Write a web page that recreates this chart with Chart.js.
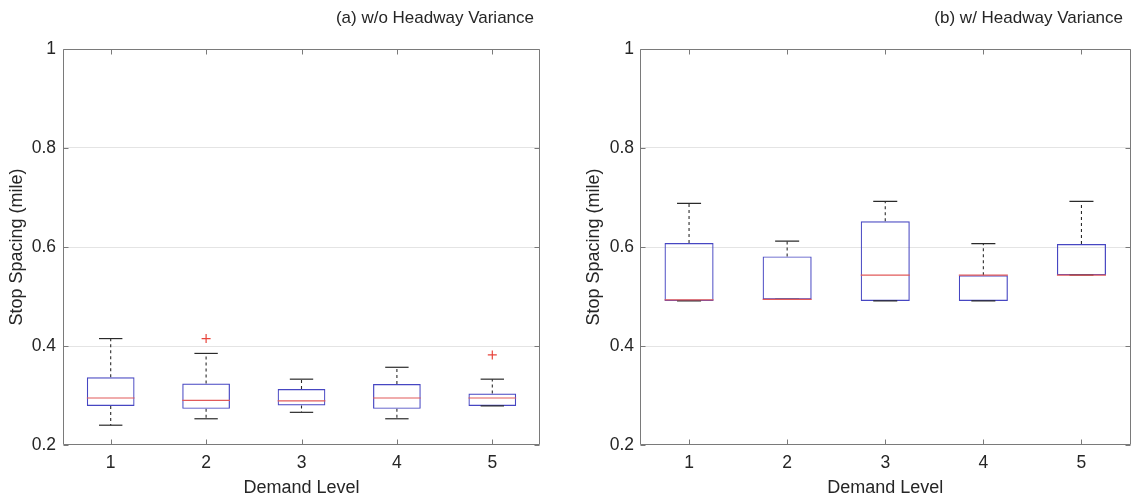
<!DOCTYPE html>
<html>
<head>
<meta charset="utf-8">
<script src="https://cdn.jsdelivr.net/npm/chart.js@4.4.1/dist/chart.umd.min.js"></script>
<style>
  html, body { margin: 0; padding: 0; background: #ffffff; }
  #wrap { position: relative; width: 1143px; height: 502px; background: #ffffff; overflow: hidden; }
  .panel { position: absolute; top: 0; }
</style>
</head>
<body>
<div id="wrap">
  <canvas id="panelA" class="panel" width="570" height="502" style="left:0px"></canvas>
  <canvas id="panelB" class="panel" width="573" height="502" style="left:570px"></canvas>
</div>
<script>
// Demand levels on the x axis and y-axis ticks (stop spacing, miles)
const demandLevels = ['1', '2', '3', '4', '5'];
const yTicks = [0.2, 0.4, 0.6, 0.8, 1];

// (a) without headway variance: box-plot statistics per demand level
const aLow    = [0.240, 0.253, 0.266, 0.253, 0.279];
const aQ1     = [0.279, 0.273, 0.280, 0.273, 0.279];
const aMedian = [0.295, 0.290, 0.289, 0.295, 0.295];
const aQ3     = [0.337, 0.324, 0.313, 0.323, 0.304];
const aHigh   = [0.415, 0.385, 0.333, 0.357, 0.333];
const aOutliers = [null, 0.415, null, null, 0.382];

// (b) with headway variance
const bLow    = [0.491, 0.494, 0.491, 0.491, 0.543];
const bQ1     = [0.491, 0.494, 0.491, 0.491, 0.543];
const bMedian = [0.493, 0.494, 0.543, 0.543, 0.543];
const bQ3     = [0.608, 0.581, 0.652, 0.543, 0.606];
const bHigh   = [0.688, 0.612, 0.692, 0.607, 0.692];
const bOutliers = [null, null, null, null, null];

const FONT = '"Liberation Sans", Arial, Helvetica, sans-serif';
const TEXT = '#262626';
Chart.defaults.font.family = FONT;
Chart.defaults.font.size = 17.5;
Chart.defaults.color = TEXT;

// Panel heading, right-aligned just inside the plot frame
const panelTitle = {
  id: 'panelTitle',
  afterDraw(chart, args, opts) {
    const { ctx, chartArea } = chart;
    ctx.save();
    ctx.font = opts.size + 'px ' + FONT;
    ctx.fillStyle = TEXT;
    ctx.textAlign = 'right';
    ctx.textBaseline = 'middle';
    ctx.fillText(opts.text, chartArea.right - opts.inset, opts.y);
    ctx.restore();
  }
};

// Box frame around the plot with inward-pointing tick marks on all sides
const axesFrame = {
  id: 'axesFrame',
  afterDatasetsDraw(chart, args, opts) {
    const { ctx, chartArea: a, scales } = chart;
    const L = Math.round(a.left) + 0.5, R = Math.round(a.right) - 0.5;
    const T = Math.round(a.top) + 0.5, B = Math.round(a.bottom) - 0.5;
    const len = opts.tickLength;
    ctx.save();
    ctx.strokeStyle = opts.color;
    ctx.lineWidth = 1;
    ctx.beginPath();
    ctx.rect(L, T, R - L, B - T);
    scales.x.ticks.forEach((t, i) => {
      const px = Math.round(scales.x.getPixelForTick(i)) + 0.5;
      ctx.moveTo(px, B); ctx.lineTo(px, B - len);
      ctx.moveTo(px, T); ctx.lineTo(px, T + len);
    });
    scales.y.ticks.forEach(t => {
      const py = Math.round(scales.y.getPixelForValue(t.value)) + 0.5;
      ctx.moveTo(L, py); ctx.lineTo(L + len, py);
      ctx.moveTo(R, py); ctx.lineTo(R - len, py);
    });
    ctx.stroke();
    ctx.restore();
  }
};

// width of one category slot in pixels
const slot = ctx => ctx.chart.scales.x.width / demandLevels.length;

function makeBoxChart(id, s, geo) {
  const whiskers = demandLevels.flatMap((c, i) => [
    { x: c, y: s.q3[i] }, { x: c, y: s.high[i] }, { x: c, y: null },
    { x: c, y: s.q1[i] }, { x: c, y: s.low[i] }, { x: c, y: null }
  ]);
  const caps = demandLevels.flatMap((c, i) => [
    { x: c, y: s.high[i] }, { x: c, y: s.low[i] }
  ]);
  const boxes = demandLevels.map((c, i) => [s.q1[i], s.q3[i]]);

  return new Chart(document.getElementById(id), {
    type: 'bar',
    data: {
      labels: demandLevels,
      datasets: [
        {
          type: 'line', label: 'outliers', data: s.outliers, order: 0,
          showLine: false, pointStyle: 'cross', pointRadius: 4.5,
          pointBorderColor: '#e8453c', pointBackgroundColor: '#e8453c',
          pointBorderWidth: 1.2
        },
        {
          type: 'line', label: 'median', data: s.median, order: 1,
          showLine: false, pointStyle: 'line',
          pointRadius: ctx => slot(ctx) * 0.25,
          pointBorderColor: '#e25a5a', pointBorderWidth: 1.2
        },
        {
          type: 'line', label: 'caps', data: caps, order: 2,
          showLine: false, pointStyle: 'line',
          pointRadius: ctx => slot(ctx) * 0.1225,
          pointBorderColor: '#2a2a2a', pointBorderWidth: 1.2
        },
        {
          type: 'bar', label: 'box', data: boxes, order: 3,
          backgroundColor: 'rgba(255,255,255,0)',
          borderColor: '#4646c2', borderWidth: 1.2, borderSkipped: false,
          categoryPercentage: 1, barPercentage: 0.5
        },
        {
          type: 'line', label: 'whiskers', data: whiskers, order: 4,
          spanGaps: false, pointRadius: 0, borderColor: '#2a2a2a',
          borderWidth: 1.1, borderDash: [3, 3], fill: false
        }
      ]
    },
    options: {
      responsive: false,
      animation: false,
      events: [],
      layout: { padding: { left: 0, top: 49, right: geo.padRight, bottom: 0 } },
      plugins: {
        legend: { display: false },
        tooltip: { enabled: false },
        panelTitle: { text: geo.title, size: 17, y: 18, inset: geo.titleInset },
        axesFrame: { color: '#7a7a7a', tickLength: 5 }
      },
      scales: {
        x: {
          offset: true,
          grid: { display: false, drawTicks: false },
          border: { display: false },
          ticks: { padding: 8, color: TEXT, font: { size: 17.5 } },
          title: { display: true, text: 'Demand Level', color: TEXT,
                   font: { size: 18 }, padding: { top: 0, bottom: 3.2 } },
          afterFit: sc => { sc.height = 57; }
        },
        y: {
          min: 0.2, max: 1,
          afterBuildTicks: sc => { sc.ticks = yTicks.map(v => ({ value: v })); },
          grid: {
            drawTicks: false, lineWidth: 1,
            color: ctx => (ctx.tick && (ctx.tick.value === yTicks[0] ||
                     ctx.tick.value === yTicks[yTicks.length - 1])) ? 'rgba(0,0,0,0)' : '#e4e4e4'
          },
          border: { display: false },
          ticks: { padding: geo.yTickPad, color: TEXT, font: { size: 17.5 },
                   callback: v => String(v) },
          title: { display: true, text: 'Stop Spacing (mile)', color: TEXT,
                   font: { size: 18 }, padding: { top: geo.yTitlePad, bottom: 0 } },
          afterFit: sc => { sc.width = geo.yWidth; }
        }
      }
    },
    plugins: [panelTitle, axesFrame]
  });
}

makeBoxChart('panelA',
  { low: aLow, q1: aQ1, median: aMedian, q3: aQ3, high: aHigh, outliers: aOutliers },
  { title: '(a) w/o Headway Variance', padRight: 30, yWidth: 63, yTickPad: 7,
    yTitlePad: 6.7, titleInset: 6 });

makeBoxChart('panelB',
  { low: bLow, q1: bQ1, median: bMedian, q3: bQ3, high: bHigh, outliers: bOutliers },
  { title: '(b) w/ Headway Variance', padRight: 12.5, yWidth: 70, yTickPad: 6,
    yTitlePad: 13.2, titleInset: 7.5 });
</script>
</body>
</html>
